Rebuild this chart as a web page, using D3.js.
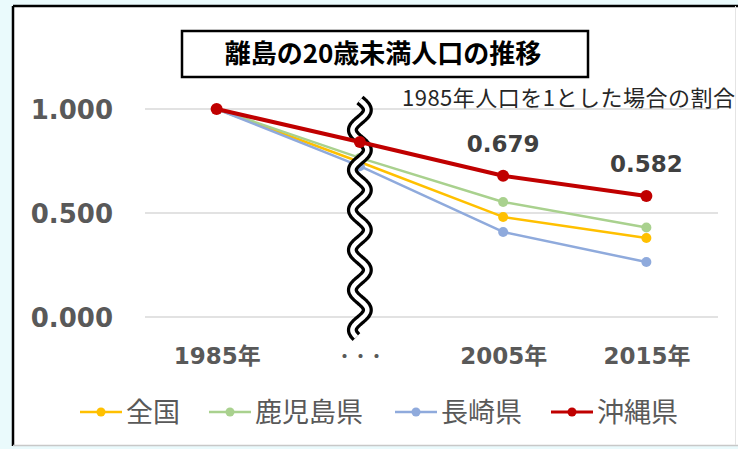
<!DOCTYPE html>
<html>
<head>
<meta charset="utf-8">
<script src="https://cdn.jsdelivr.net/npm/d3@7"></script>
<style>
  html, body { margin: 0; padding: 0; background: #EAFAFC; }
  #chart { width: 738px; height: 449px; }
  svg { display: block; }
</style>
</head>
<body>
<div id="chart"></div>
<script>
//Datos
const categorias = ['1985年', '・・・', '2005年', '2015年'];
const series = ['全国', '鹿児島県', '長崎県', '沖縄県'];
const valoresZenkoku = [1.000, 0.745, 0.481, 0.380];
const valoresKagoshima = [1.000, 0.765, 0.553, 0.430];
const valoresNagasaki = [1.000, 0.725, 0.409, 0.264];
const valoresOkinawa = [1.000, 0.841, 0.679, 0.582];
const ticksY = [0, 0.5, 1];
const etiquetasOkinawa = ['', '', '0.679', '0.582'];

//Colores fijos
const COLOR_ZENKOKU = '#FFC000',
    COLOR_KAGOSHIMA = '#A9D18E',
    COLOR_NAGASAKI = '#8FAADC',
    COLOR_OKINAWA = '#C00000',
    COLOR_TEXT = '#595959',
    COLOR_GRID = '#D9D9D9';

const W = 738, H = 449;

let svg = d3.select('#chart').append('svg')
    .attr('width', W)
    .attr('height', H);

//Marco
svg.append('rect')
    .attr('x', 13).attr('y', 6)
    .attr('width', W - 13).attr('height', 439)
    .attr('fill', '#fff');
svg.append('line').attr('x1', 13).attr('x2', W).attr('y1', 6).attr('y2', 6)
    .attr('stroke', '#000').attr('stroke-width', 2.5);
svg.append('line').attr('x1', 13).attr('x2', 13).attr('y1', 6).attr('y2', 446)
    .attr('stroke', '#000').attr('stroke-width', 2.5);
svg.append('line').attr('x1', 13).attr('x2', W).attr('y1', 445.5).attr('y2', 445.5)
    .attr('stroke', '#C8C8C8').attr('stroke-width', 1.5);
svg.append('line').attr('x1', 735.5).attr('x2', 735.5).attr('y1', 6).attr('y2', 445)
    .attr('stroke', '#E4E4E4').attr('stroke-width', 1);

//Escalas
let x = d3.scalePoint()
    .domain(categorias)
    .range([145, 718])
    .padding(0.5);

let y = d3.scaleLinear()
    .domain([0, 1])
    .range([317, 109]);

//Rejilla
svg.append('g')
    .selectAll('line')
    .data(ticksY)
    .enter()
    .append('line')
    .attr('x1', 145).attr('x2', 718)
    .attr('y1', d => y(d)).attr('y2', d => y(d))
    .attr('stroke', COLOR_GRID)
    .attr('stroke-width', 1.5);

//Eje Y
let yAxis = svg.append('g')
    .attr('transform', 'translate(113,0)')
    .call(d3.axisLeft(y).tickValues(ticksY).tickFormat(d3.format('.3f')).tickSize(0).tickPadding(0));
yAxis.select('.domain').remove();
yAxis.selectAll('text')
    .attr('fill', COLOR_TEXT)
    .style('font-family', '"DejaVu Sans", Verdana, sans-serif')
    .style('font-weight', 'bold')
    .style('font-size', '26px')
    .attr('dy', '0.36em');

//Eje X
let xAxis = svg.append('g')
    .attr('transform', 'translate(0,356)')
    .call(d3.axisBottom(x).tickSize(0).tickPadding(0));
xAxis.select('.domain').remove();
xAxis.selectAll('text')
    .attr('fill', COLOR_TEXT)
    .attr('y', 0)
    .attr('dy', '0.36em')
    .style('font-family', '"DejaVu Sans", "Noto Sans CJK JP", sans-serif')
    .style('font-weight', 'bold')
    .style('font-size', d => d === '・・・' ? '16px' : '23px');

//Series
let datos = [
    { nombre: series[0], valores: valoresZenkoku, color: COLOR_ZENKOKU, ancho: 2.5, r: 5 },
    { nombre: series[1], valores: valoresKagoshima, color: COLOR_KAGOSHIMA, ancho: 2.5, r: 5 },
    { nombre: series[2], valores: valoresNagasaki, color: COLOR_NAGASAKI, ancho: 2.5, r: 5 },
    { nombre: series[3], valores: valoresOkinawa, color: COLOR_OKINAWA, ancho: 4, r: 6 }
];

let linea = d3.line()
    .x((d, i) => x(categorias[i]))
    .y(d => y(d));

let grupos = svg.append('g')
    .selectAll('g')
    .data(datos)
    .enter()
    .append('g')
    .attr('class', (d, i) => 'serie serie-' + i);

grupos.append('path')
    .attr('d', d => linea(d.valores))
    .attr('fill', 'none')
    .attr('stroke', d => d.color)
    .attr('stroke-width', d => d.ancho)
    .attr('stroke-linejoin', 'round');

grupos.selectAll('circle')
    .data(d => d.valores.map(v => ({ v: v, r: d.r, color: d.color })))
    .enter()
    .append('circle')
    .attr('cx', (d, i) => x(categorias[i]))
    .attr('cy', d => y(d.v))
    .attr('r', d => d.r)
    .attr('fill', d => d.color);

//Corte del eje (onda doble)
let xc = x('・・・');
let onda = [];
for (let yy = 100; yy <= 337; yy += 1) {
    onda.push([xc + 7.5 * Math.sin((yy - 100) / 40 * 2 * Math.PI), yy]);
}
let ondaPath = d3.line().curve(d3.curveBasis)(onda);
let corte = svg.append('g');
corte.append('path').attr('d', ondaPath).attr('fill', 'none')
    .attr('stroke', '#000').attr('stroke-width', 11);
corte.append('path').attr('d', ondaPath).attr('fill', 'none')
    .attr('stroke', '#fff').attr('stroke-width', 4.5);

//Okinawa por encima del corte
svg.node().appendChild(svg.select('.serie-3').node());

//Etiquetas de Okinawa
svg.append('g')
    .selectAll('text')
    .data(etiquetasOkinawa)
    .enter()
    .append('text')
    .attr('x', (d, i) => x(categorias[i]))
    .attr('y', (d, i) => y(valoresOkinawa[i]) - 32)
    .attr('dy', '0.36em')
    .attr('text-anchor', 'middle')
    .attr('fill', '#404040')
    .style('font-family', '"DejaVu Sans", Verdana, sans-serif')
    .style('font-weight', 'bold')
    .style('font-size', '23px')
    .text(d => d);

//Subtítulo
svg.append('text')
    .attr('x', 402)
    .attr('y', 98)
    .attr('dy', '0.36em')
    .attr('fill', '#262626')
    .attr('textLength', 333)
    .style('font-family', '"Noto Sans CJK JP", sans-serif')
    .style('font-size', '22px')
    .text('1985年人口を1とした場合の割合');

//Título
svg.append('rect')
    .attr('x', 182).attr('y', 31)
    .attr('width', 406).attr('height', 46)
    .attr('fill', '#fff')
    .attr('stroke', '#000')
    .attr('stroke-width', 2.5);
svg.append('text')
    .attr('x', 383)
    .attr('y', 54)
    .attr('dy', '0.36em')
    .attr('text-anchor', 'middle')
    .attr('fill', '#000')
    .style('font-family', '"Noto Sans CJK JP", sans-serif')
    .style('font-weight', 'bold')
    .style('font-size', '26px')
    .text('離島の20歳未満人口の推移');

//Leyenda
let leyendaX = [80, 209, 395, 551];
let leyenda = svg.append('g')
    .selectAll('g')
    .data(datos)
    .enter()
    .append('g')
    .attr('transform', (d, i) => 'translate(' + leyendaX[i] + ',412)');

leyenda.append('line')
    .attr('x1', 0).attr('x2', 42)
    .attr('stroke', d => d.color)
    .attr('stroke-width', d => d.ancho === 4 ? 3 : 2.5);
leyenda.append('circle')
    .attr('cx', 21).attr('r', 4.5)
    .attr('fill', d => d.color);
leyenda.append('text')
    .attr('x', 46)
    .attr('dy', '0.36em')
    .attr('fill', COLOR_TEXT)
    .style('font-family', '"Noto Sans CJK JP", sans-serif')
    .style('font-size', '27px')
    .text(d => d.nombre);
</script>
</body>
</html>
